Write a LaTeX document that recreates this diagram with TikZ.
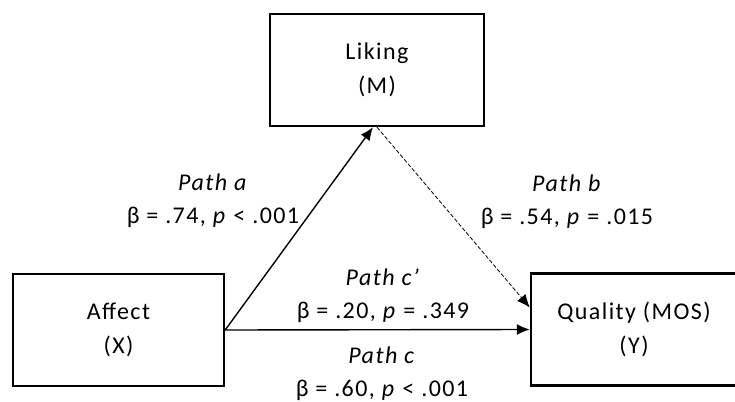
\documentclass[tikz,border=0pt]{standalone}
\usepackage{fontspec}
\setmainfont{Carlito}[LetterSpace=6]
\usetikzlibrary{arrows.meta}

\begin{document}
\begin{tikzpicture}[x=0.5pt, y=-0.5pt,
    var/.style={rectangle, draw, line width=1.2pt, align=center, minimum height=56pt, font=\fontsize{12}{17}\selectfont},
    lbl/.style={align=center, font=\fontsize{12}{16.5}\selectfont},
    link/.style={line width=0.7pt, -{Latex[length=6.5pt, width=5.5pt]}}]
    \useasboundingbox (0,0) rectangle (735,402);

    % the three variables
    \node[var, minimum width=107pt] (liking) at (377,70) {Liking\\(M)};
    \node[var, minimum width=105.5pt] (affect) at (118.5,330) {Affect\\(X)};
    \node[var, minimum width=103pt] (quality) at (634,329.5) {Quality (MOS)\\(Y)};

    % paths between them
    \draw[link] (affect.east) -- ([xshift=-2pt]liking.south);
    \draw[link, line width=0.4pt, dash pattern=on 2pt off 1pt] (liking.south) -- ([yshift=11pt]quality.west);
    \draw[link] (affect.east) -- (quality.west);

    % coefficients
    \node[lbl] (patha) at (213,200.5) {\textit{Path a}\\β = .74, \textit{p} < .001};
    \node[lbl] (pathb) at (567,202) {\textit{Path b}\\β = .54, \textit{p} = .015};
    \node[lbl] (pathcp) at (383,295.5) {\textit{Path c’}\\β = .20, \textit{p} = .349};
    \node[lbl] (pathc) at (382,374) {\textit{Path c}\\β = .60, \textit{p} < .001};
\end{tikzpicture}
\end{document}
